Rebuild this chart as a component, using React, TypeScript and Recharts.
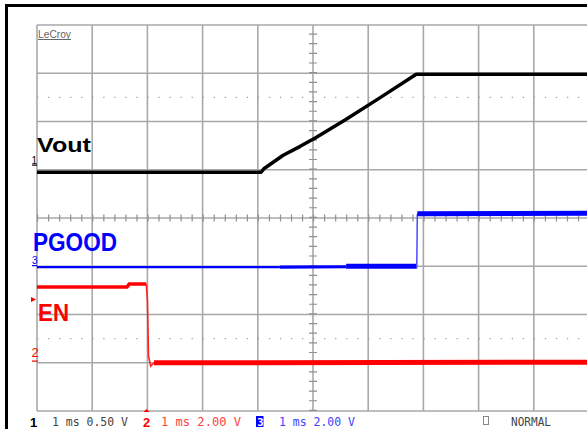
import React from 'react';
import { LineChart, Line, XAxis, YAxis, CartesianGrid, ReferenceLine } from 'recharts';

// graticule: 10 x 8 divisions, time in ms (1 ms/div), level in divisions
const xTicks = [0, 1, 2, 3, 4, 5, 6, 7, 8, 9, 10];
const yTicks = [-4, -3, -2, -1, 0, 1, 2, 3, 4];

// channel 1 - Vout (0.50 V/div)
const vout = [
  { x: 0, y: 0.95 },
  { x: 4.06, y: 0.95 },
  { x: 4.11, y: 1.02 },
  { x: 4.46, y: 1.3 },
  { x: 4.76, y: 1.48 },
  { x: 5.04, y: 1.66 },
  { x: 5.58, y: 2.03 },
  { x: 6.21, y: 2.49 },
  { x: 6.87, y: 2.98 },
  { x: 10, y: 2.98 },
];

// channel 3 - PGOOD (2.00 V/div)
const pgoodQuiet = [
  { x: 0, y: -1.02 },
  { x: 4.4, y: -1.02 },
];
const pgoodLowNoisy = [
  { x: 4.4, y: -1.02 },
  { x: 5.6, y: -1.01 },
];
const pgoodLowNoisier = [
  { x: 5.6, y: -1.0 },
  { x: 6.88, y: -1.0 },
];
const pgoodEdge = [
  { x: 6.88, y: -1.04 },
  { x: 6.89, y: 0.09 },
];
const pgoodHigh = [
  { x: 6.89, y: 0.09 },
  { x: 10, y: 0.1 },
];

// channel 2 - EN (2.00 V/div)
const enHigh = [
  { x: 0, y: -1.43 },
  { x: 1.63, y: -1.43 },
  { x: 1.67, y: -1.37 },
  { x: 1.98, y: -1.37 },
];
const enEdge = [
  { x: 1.98, y: -1.37 },
  { x: 2.0, y: -1.7 },
  { x: 2.02, y: -2.86 },
  { x: 2.06, y: -3.07 },
  { x: 2.12, y: -3.0 },
];
const enLow = [
  { x: 2.12, y: -3.0 },
  { x: 10, y: -2.99 },
];

const mono = '"DejaVu Sans Mono", monospace';
const sans = '"Liberation Sans", Arial, sans-serif';

const App = () => {
  return (
    <div style={{ position: 'relative', width: 587, height: 429, overflow: 'hidden', background: '#fff' }}>
      <style>{'body{margin:0}'}</style>
      <div style={{ position: 'absolute', left: 0, top: 0 }}>
        <LineChart
          width={600}
          height={429}
          margin={{ top: 25, right: 11, bottom: 18, left: 37 }}
        >
          <CartesianGrid stroke="#a8a8a8" strokeWidth={1.6} />
          <XAxis type="number" dataKey="x" domain={[0, 10]} ticks={xTicks} hide allowDataOverflow />
          <YAxis type="number" dataKey="y" domain={[-4, 4]} ticks={yTicks} hide allowDataOverflow />
          <ReferenceLine y={2.5} stroke="#a0a0a0" strokeWidth={1.3} strokeDasharray="1.3 9.74" />
          <ReferenceLine y={-2.5} stroke="#a0a0a0" strokeWidth={1.3} strokeDasharray="1.3 9.74" />
          <ReferenceLine x={5} stroke="#909090" strokeWidth={8} strokeDasharray="1.2 8.45" />
          <ReferenceLine y={0} stroke="#909090" strokeWidth={7} strokeDasharray="1.2 9.84" />

          <Line data={vout} dataKey="y" stroke="#000" strokeWidth={3.5} dot={false} isAnimationActive={false} strokeLinejoin="round" />

          <Line data={pgoodQuiet} dataKey="y" stroke="#0000ff" strokeWidth={2.2} dot={false} isAnimationActive={false} />
          <Line data={pgoodLowNoisy} dataKey="y" stroke="#0000ff" strokeWidth={3.2} dot={false} isAnimationActive={false} />
          <Line data={pgoodLowNoisier} dataKey="y" stroke="#0000ff" strokeWidth={5} dot={false} isAnimationActive={false} />
          <Line data={pgoodEdge} dataKey="y" stroke="#4a4aff" strokeWidth={1.5} dot={false} isAnimationActive={false} />
          <Line data={pgoodHigh} dataKey="y" stroke="#0000ff" strokeWidth={5} dot={false} isAnimationActive={false} />

          <Line data={enHigh} dataKey="y" stroke="#ff0000" strokeWidth={3.5} dot={false} isAnimationActive={false} />
          <Line data={enEdge} dataKey="y" stroke="#ff2020" strokeWidth={1.6} dot={false} isAnimationActive={false} />
          <Line data={enLow} dataKey="y" stroke="#ff0000" strokeWidth={5} dot={false} isAnimationActive={false} />
        </LineChart>
      </div>

      <svg width={587} height={429} style={{ position: 'absolute', left: 0, top: 0, pointerEvents: 'none' }}>
        {/* screen frame */}
        <rect x={5} y={4} width={3} height={425} fill="#000" />
        <rect x={5} y={4} width={582} height={3} fill="#000" />

        <text x={38} y={38} fontFamily={sans} fontSize={10} fill="#666" textLength={33} lengthAdjust="spacingAndGlyphs">LeCroy</text>
        <rect x={38} y={39} width={33} height={1} fill="#666" />

        {/* trace labels */}
        <text x={37} y={152} fontFamily={sans} fontWeight="bold" fontSize={21} fill="#000" textLength={54} lengthAdjust="spacingAndGlyphs">Vout</text>
        <text x={33} y={250.5} fontFamily={sans} fontWeight="bold" fontSize={25} fill="#0000ff" textLength={84} lengthAdjust="spacingAndGlyphs">PGOOD</text>
        <text x={38} y={321} fontFamily={sans} fontWeight="bold" fontSize={23} fill="#ff0000" textLength={31} lengthAdjust="spacingAndGlyphs">EN</text>

        {/* channel ground markers */}
        <text x={31.5} y={164} fontFamily={sans} fontSize={10} fill="#000">1</text>
        <rect x={32} y={164.5} width={5} height={1.2} fill="#000" />
        <text x={32} y={263.5} fontFamily={sans} fontSize={10} fill="#0000ff">3</text>
        <rect x={32} y={265} width={5} height={1.2} fill="#0000ff" />
        <polygon points="31,297 36,299.5 31,302" fill="#ff0000" />
        <text x={31.5} y={357} fontFamily={sans} fontSize={13} fill="#ff0000">2</text>
        <rect x={32} y={360.5} width={6} height={1.2} fill="#ff0000" />

        {/* status line */}
        <text x={30} y={427} fontFamily={sans} fontWeight="bold" fontSize={13} fill="#000">1</text>
        <text x={52} y={426} fontFamily={mono} fontSize={11.5} fill="#444" textLength={76} lengthAdjust="spacingAndGlyphs">1 ms 0.50 V</text>
        <polygon points="143.5,412 149.5,412 146.5,409" fill="#ff0000" />
        <text x={143} y={427} fontFamily={sans} fontWeight="bold" fontSize={13} fill="#ff0000">2</text>
        <text x={161} y={426} fontFamily={mono} fontSize={11.5} fill="#ff4040" textLength={80} lengthAdjust="spacingAndGlyphs">1 ms 2.00 V</text>
        <rect x={256} y={416} width={7.5} height={11} fill="#0000ff" />
        <text x={257.3} y={425.5} fontFamily={mono} fontWeight="bold" fontSize={10.5} fill="#fff">3</text>
        <text x={279} y={426} fontFamily={mono} fontSize={11.5} fill="#4040ff" textLength={76} lengthAdjust="spacingAndGlyphs">1 ms 2.00 V</text>
        <rect x={483.5} y={416.5} width={5} height={8} fill="none" stroke="#888" strokeWidth={1} />
        <text x={511} y={426} fontFamily={mono} fontSize={11.5} fill="#444" textLength={40} lengthAdjust="spacingAndGlyphs">NORMAL</text>
      </svg>
    </div>
  );
};

export default App;
